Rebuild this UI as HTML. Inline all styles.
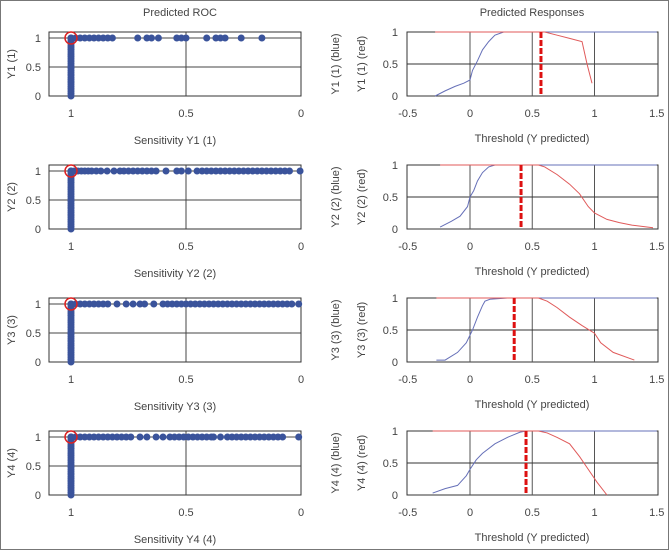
<!DOCTYPE html>
<html><head><meta charset="utf-8"><style>
html,body{margin:0;padding:0;background:#fff}
svg{display:block}
text{font-family:"Liberation Sans",sans-serif;fill:#444;font-size:11px}
</style></head><body>
<svg id="chart" width="669" height="550">
<rect x="0.5" y="0.5" width="668" height="549" fill="#fff" stroke="#777"/>
<text x="180" y="16" text-anchor="middle">Predicted ROC</text>
<text x="532" y="16" text-anchor="middle">Predicted Responses</text>
</svg>
<script>
const rocX = [
 [1,0.98,0.96,0.94,0.92,0.9,0.88,0.86,0.84,0.82,0.71,0.67,0.65,0.62,0.54,0.52,0.5,0.41,0.37,0.35,0.33,0.26,0.17],
 [1,0.985,0.97,0.955,0.94,0.925,0.91,0.89,0.87,0.843,0.813,0.787,0.77,0.75,0.73,0.71,0.69,0.67,0.65,0.63,0.587,0.54,0.52,0.49,0.452,0.43,0.41,0.39,0.37,0.35,0.33,0.31,0.29,0.27,0.25,0.23,0.21,0.19,0.17,0.15,0.13,0.11,0.09,0.07,0.05,0.004],
 [1,0.98,0.96,0.94,0.92,0.9,0.88,0.86,0.84,0.8,0.76,0.73,0.7,0.68,0.64,0.6,0.58,0.56,0.54,0.52,0.5,0.48,0.46,0.44,0.42,0.4,0.38,0.36,0.34,0.32,0.3,0.28,0.26,0.24,0.22,0.2,0.18,0.16,0.14,0.12,0.1,0.08,0.06,0.04,0.01],
 [1,0.98,0.96,0.94,0.92,0.9,0.88,0.86,0.84,0.82,0.8,0.78,0.76,0.74,0.7,0.67,0.63,0.6,0.57,0.55,0.53,0.51,0.49,0.47,0.45,0.43,0.41,0.39,0.38,0.35,0.32,0.3,0.28,0.26,0.24,0.22,0.2,0.18,0.16,0.14,0.12,0.1,0.08,0.01]
];
const rocColY = [0,0.04,0.08,0.12,0.16,0.2,0.24,0.28,0.32,0.36,0.4,0.44,0.48,0.52,0.56,0.6,0.64,0.68,0.72,0.76,0.8,0.84,0.88,0.92,0.96,1];
const blueX = [
 [-0.28,-0.2,-0.12,-0.05,0,0.02,0.06,0.1,0.15,0.2,0.27,1.5],
 [-0.24,-0.15,-0.08,-0.02,0,0.03,0.06,0.1,0.15,0.2,1.5],
 [-0.27,-0.2,-0.1,-0.03,0.02,0.06,0.1,0.12,0.16,0.3,1.5],
 [-0.3,-0.2,-0.1,-0.03,0,0.05,0.1,0.2,0.3,0.4,0.45,1.5]
];
const blueY = [
 [0,0.08,0.15,0.2,0.25,0.4,0.55,0.72,0.85,0.95,1,1],
 [0.03,0.12,0.2,0.35,0.5,0.6,0.75,0.88,0.97,1,1],
 [0.03,0.03,0.15,0.3,0.5,0.7,0.88,0.95,0.98,1,1],
 [0.03,0.1,0.15,0.3,0.4,0.55,0.65,0.8,0.9,0.98,1,1]
];
const redX = [
 [-0.28,0.6,0.7,0.8,0.9,0.94,0.98],
 [-0.24,0.55,0.6,0.7,0.8,0.88,0.95,1.0,1.1,1.2,1.3,1.47],
 [-0.27,0.55,0.62,0.7,0.8,0.9,1.0,1.05,1.15,1.32],
 [-0.3,0.55,0.62,0.7,0.8,0.88,0.95,1.02,1.1]
];
const redY = [
 [1,1,0.95,0.9,0.85,0.5,0.2],
 [1,1,0.97,0.85,0.7,0.55,0.35,0.25,0.15,0.1,0.06,0.02],
 [1,1,0.95,0.85,0.7,0.57,0.45,0.3,0.15,0.03],
 [1,1,0.97,0.9,0.8,0.6,0.4,0.2,0.0]
];
const thresholds = [0.57,0.41,0.355,0.45];
const rocTicks = ["1","0.5","0"];
const rocTickVals = [1,0.5,0];
const yTickVals = [1,0.5,0];
const yTicks = ["1","0.5","0"];
const respTickVals = [-0.5,0,0.5,1,1.5];
const respTicks = ["-0.5","0","0.5","1","1.5"];

const NS = "http://www.w3.org/2000/svg";
const svg = document.getElementById('chart');
function mk(tag, attrs, parent, txt){
  const e = document.createElementNS(NS, tag);
  for (const k in attrs) e.setAttribute(k, attrs[k]);
  if (txt !== undefined) e.textContent = txt;
  (parent||svg).appendChild(e);
  return e;
}
for (let r = 0; r < 4; r++) {
  const off = r * 133;
  const top = 32 + off, bot = 96 + off;
  const n = r + 1;
  const lx = v => 71 + (1 - v) * 230;
  const ly = v => bot - v * 58;
  const g = mk('g', {});
  
  
  mk('rect', {x:49, y:top, width:252, height:64, fill:'#fff', stroke:'#333', 'stroke-width':1}, g);
  mk('line', {x1:lx(0.5), x2:lx(0.5), y1:top, y2:bot, stroke:'#444'}, g);
  mk('line', {x1:49, x2:301, y1:ly(0.5), y2:ly(0.5), stroke:'#444'}, g);
  mk('line', {x1:49, x2:301, y1:ly(1), y2:ly(1), stroke:'#444'}, g);
  yTickVals.forEach((v, i) => {
    const t = mk('text', {x:41, y:ly(v) + 4, 'text-anchor':'end'}, g, yTicks[i]);
    
    
  });
  rocTickVals.forEach((v, i) => {
    const t = mk('text', {x:lx(v), y:117 + off, 'text-anchor':'middle'}, g, rocTicks[i]);
    
    
  });
  const yl = mk('text', {x:0, y:0, 'text-anchor':'middle', transform:`translate(15,${(top+bot)/2}) rotate(-90)`}, g, `Y${n} (${n})`);
  
  
  const xl = mk('text', {x:175, y:144 + off, 'text-anchor':'middle'}, g, `Sensitivity Y${n} (${n})`);
  
  
  rocColY.forEach(v => {
    const c = mk('circle', {cx:lx(1), cy:ly(v), r:3.5, fill:'#3a539b'}, g);
    
    
  });
  rocX[r].forEach(v => {
    const c = mk('circle', {cx:lx(v), cy:ly(1), r:3.5, fill:'#3a539b'}, g);
    
    
  });
  const oc = mk('circle', {cx:lx(1), cy:ly(1), r:6, fill:'none', stroke:'#d22', 'stroke-width':1.5}, g);
  
  
  const rx = v => 470 + v * 124.5;
  const ry = v => bot - v * 64;
  const h = mk('g', {});
  
  
  mk('rect', {x:407, y:top, width:251, height:64, fill:'#fff', stroke:'#333'}, h);
  [0,0.5,1].forEach(v => mk('line', {x1:rx(v), x2:rx(v), y1:top, y2:bot, stroke:'#555'}, h));
  mk('line', {x1:407, x2:658, y1:ry(0.5), y2:ry(0.5), stroke:'#333'}, h);
  yTickVals.forEach((v, i) => {
    const t = mk('text', {x:398, y:ry(v) + 4, 'text-anchor':'end'}, h, yTicks[i]);
    
    
  });
  respTickVals.forEach((v, i) => {
    const t = mk('text', {x:rx(v), y:117 + off, 'text-anchor':'middle'}, h, respTicks[i]);
    
    
  });
  const b1 = mk('text', {x:0, y:0, 'text-anchor':'middle', transform:`translate(339,${(top+bot)/2}) rotate(-90)`}, h, `Y${n} (${n}) (blue)`);
  
  
  const b2 = mk('text', {x:0, y:0, 'text-anchor':'middle', transform:`translate(365,${(top+bot)/2}) rotate(-90)`}, h, `Y${n} (${n}) (red)`);
  
  
  const tx = mk('text', {x:532, y:142 + off, 'text-anchor':'middle'}, h, 'Threshold (Y predicted)');
  
  
  const bp = blueX[r].map((v, i) => `${rx(v)},${ry(blueY[r][i])}`).join(' ');
  const bl = mk('polyline', {points:bp, fill:'none', stroke:'#6670b8', 'stroke-width':1}, h);
  
  
  const rp = redX[r].map((v, i) => `${rx(v)},${ry(redY[r][i])}`).join(' ');
  const rl = mk('polyline', {points:rp, fill:'none', stroke:'#e05a5a', 'stroke-width':1}, h);
  
  
  const th = mk('line', {x1:rx(thresholds[r]), x2:rx(thresholds[r]), y1:top, y2:bot, stroke:'#d11', 'stroke-width':3, 'stroke-dasharray':'6,2'}, h);
  
  
}
</script>
</body></html>
